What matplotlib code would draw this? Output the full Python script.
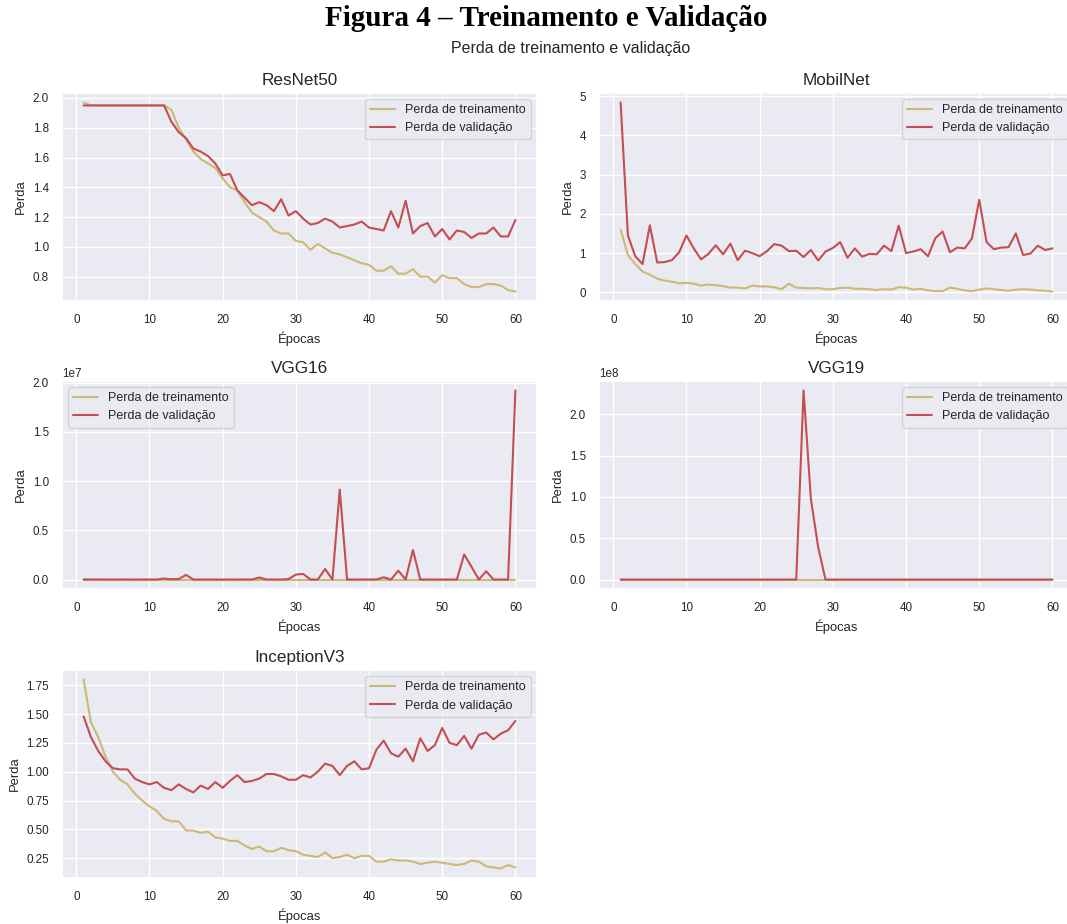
import matplotlib
matplotlib.use("Agg")
import matplotlib.pyplot as plt
import seaborn as sns

# estilo do gráfico
sns.set_theme(style="darkgrid", color_codes=True)
plt.rcParams['font.family'] = ['Liberation Sans', 'DejaVu Sans']

epocas = list(range(1, 61))

# ResNet50
resnet_treino = [1.97, 1.95, 1.95, 1.95, 1.95, 1.95, 1.95, 1.95, 1.95, 1.95,
                 1.95, 1.95, 1.92, 1.80, 1.72, 1.64, 1.59, 1.56, 1.53, 1.46,
                 1.40, 1.38, 1.30, 1.23, 1.20, 1.17, 1.11, 1.09, 1.09, 1.04,
                 1.03, 0.98, 1.02, 0.99, 0.96, 0.95, 0.93, 0.91, 0.89, 0.88,
                 0.84, 0.84, 0.87, 0.82, 0.82, 0.85, 0.80, 0.80, 0.76, 0.81,
                 0.79, 0.79, 0.75, 0.73, 0.73, 0.75, 0.75, 0.74, 0.71, 0.70]
resnet_val = [1.95, 1.95, 1.95, 1.95, 1.95, 1.95, 1.95, 1.95, 1.95, 1.95,
              1.95, 1.95, 1.84, 1.77, 1.73, 1.66, 1.64, 1.61, 1.56, 1.48,
              1.49, 1.38, 1.33, 1.28, 1.30, 1.28, 1.24, 1.32, 1.21, 1.24,
              1.19, 1.15, 1.16, 1.19, 1.17, 1.13, 1.14, 1.15, 1.17, 1.13,
              1.12, 1.11, 1.24, 1.13, 1.31, 1.09, 1.14, 1.16, 1.07, 1.12,
              1.05, 1.11, 1.10, 1.06, 1.09, 1.09, 1.13, 1.07, 1.07, 1.18]

# MobilNet
mobil_treino = [1.60, 0.95, 0.72, 0.53, 0.45, 0.35, 0.30, 0.27, 0.23, 0.24,
                0.22, 0.17, 0.20, 0.18, 0.16, 0.12, 0.12, 0.10, 0.17, 0.15,
                0.15, 0.13, 0.08, 0.22, 0.12, 0.11, 0.10, 0.11, 0.08, 0.08,
                0.11, 0.12, 0.09, 0.09, 0.08, 0.06, 0.08, 0.07, 0.13, 0.12,
                0.07, 0.09, 0.05, 0.03, 0.03, 0.12, 0.09, 0.05, 0.03, 0.07,
                0.10, 0.08, 0.06, 0.04, 0.07, 0.08, 0.07, 0.05, 0.04, 0.02]
mobil_val = [4.84, 1.45, 0.92, 0.72, 1.71, 0.76, 0.77, 0.82, 1.02, 1.45,
             1.12, 0.84, 0.98, 1.20, 0.97, 1.24, 0.82, 1.06, 1.00, 0.92,
             1.05, 1.23, 1.19, 1.05, 1.06, 0.90, 1.08, 0.81, 1.04, 1.13,
             1.28, 0.88, 1.12, 0.91, 0.98, 0.97, 1.19, 1.05, 1.70, 1.00,
             1.04, 1.10, 0.92, 1.38, 1.55, 1.02, 1.14, 1.12, 1.37, 2.36,
             1.28, 1.10, 1.14, 1.15, 1.50, 0.95, 0.99, 1.19, 1.08, 1.12]

# VGG16 (valores da validação explodem)
vgg16_treino = [2.1, 2.1, 2.1, 2.1, 2.1, 2.1, 2.1, 2.1, 2.1, 2.1,
                2.1, 2.1, 2.1, 2.1, 2.1, 2.1, 2.1, 2.1, 2.1, 2.1,
                2.1, 2.1, 2.1, 2.1, 2.1, 2.1, 2.1, 2.1, 2.1, 2.1,
                2.1, 2.1, 2.1, 2.1, 2.1, 2.1, 2.1, 2.1, 2.1, 2.1,
                2.1, 2.1, 2.1, 2.1, 2.1, 2.1, 2.1, 2.1, 2.1, 2.1,
                2.1, 2.1, 2.1, 2.1, 2.1, 2.1, 2.1, 2.1, 2.1, 2.1]
vgg16_val = [5e3, 8e3, 4e3, 3e3, 2e3, 4e3, 3e3, 2e3, 3e3, 4e3,
             5e3, 1.0e5, 3e4, 5e4, 4.7e5, 2e3, 3e3, 2e3, 3e3, 2e3,
             3e3, 2e3, 3e3, 4e3, 2.0e5, 5e3, 3e3, 2e3, 5e4, 5.0e5,
             5.7e5, 3e3, 2e3, 1.07e6, 4e3, 9.13e6, 3e3, 2e3, 3e3, 4e3,
             5e3, 2.3e5, 4e3, 9.0e5, 3e3, 3.0e6, 2e3, 3e3, 2e3, 3e3,
             2e3, 3e3, 2.54e6, 1.3e6, 4e3, 8.4e5, 3e3, 2e3, 3e3, 1.92e7]

# VGG19
vgg19_treino = [2.3, 2.3, 2.3, 2.3, 2.3, 2.3, 2.3, 2.3, 2.3, 2.3,
                2.3, 2.3, 2.3, 2.3, 2.3, 2.3, 2.3, 2.3, 2.3, 2.3,
                2.3, 2.3, 2.3, 2.3, 2.3, 2.3, 2.3, 2.3, 2.3, 2.3,
                2.3, 2.3, 2.3, 2.3, 2.3, 2.3, 2.3, 2.3, 2.3, 2.3,
                2.3, 2.3, 2.3, 2.3, 2.3, 2.3, 2.3, 2.3, 2.3, 2.3,
                2.3, 2.3, 2.3, 2.3, 2.3, 2.3, 2.3, 2.3, 2.3, 2.3]
vgg19_val = [2.3, 2.3, 2.3, 2.3, 2.3, 2.3, 2.3, 2.3, 2.3, 2.3,
             2.3, 2.3, 2.3, 2.3, 2.3, 2.3, 2.3, 2.3, 2.3, 2.3,
             2.3, 2.3, 2.3, 2.3, 2.3, 2.29e8, 9.76e7, 3.9e7, 2.3, 2.3,
             2.3, 2.3, 2.3, 2.3, 2.3, 2.3, 2.3, 2.3, 2.3, 2.3,
             2.3, 2.3, 2.3, 2.3, 2.3, 2.3, 2.3, 2.3, 2.3, 2.3,
             2.3, 2.3, 2.3, 2.3, 2.3, 2.3, 2.3, 2.3, 2.3, 2.3]

# InceptionV3
incep_treino = [1.80, 1.43, 1.30, 1.13, 1.00, 0.93, 0.89, 0.81, 0.75, 0.70,
                0.66, 0.59, 0.57, 0.57, 0.49, 0.49, 0.47, 0.48, 0.43, 0.42,
                0.40, 0.40, 0.36, 0.33, 0.35, 0.31, 0.31, 0.34, 0.32, 0.31,
                0.28, 0.27, 0.26, 0.30, 0.25, 0.26, 0.28, 0.25, 0.27, 0.27,
                0.22, 0.22, 0.24, 0.23, 0.23, 0.22, 0.20, 0.21, 0.22, 0.21,
                0.20, 0.19, 0.20, 0.23, 0.22, 0.18, 0.17, 0.16, 0.19, 0.17]
incep_val = [1.48, 1.30, 1.18, 1.09, 1.03, 1.02, 1.02, 0.94, 0.91, 0.89,
             0.91, 0.86, 0.84, 0.89, 0.85, 0.82, 0.88, 0.85, 0.91, 0.86,
             0.92, 0.97, 0.91, 0.92, 0.94, 0.98, 0.98, 0.96, 0.93, 0.93,
             0.97, 0.95, 1.00, 1.07, 1.05, 0.97, 1.05, 1.09, 1.02, 1.03,
             1.19, 1.27, 1.16, 1.13, 1.20, 1.09, 1.29, 1.18, 1.23, 1.38,
             1.25, 1.23, 1.31, 1.20, 1.32, 1.34, 1.28, 1.33, 1.36, 1.44]

modelos = [
    ("ResNet50", resnet_treino, resnet_val, "upper right"),
    ("MobilNet", mobil_treino, mobil_val, "upper right"),
    ("VGG16", vgg16_treino, vgg16_val, "upper left"),
    ("VGG19", vgg19_treino, vgg19_val, "upper right"),
    ("InceptionV3", incep_treino, incep_val, "upper right"),
]

W, H = 1067, 924
fig = plt.figure(figsize=(W / 100, H / 100), dpi=100)

# posições dos eixos em pixels (esquerda, topo)
col_x = [62, 599]
row_top = [93, 381, 670]
ax_w, ax_h = 475, 208

for i, (nome, treino, val, loc) in enumerate(modelos):
    r, c = divmod(i, 2)
    x0 = col_x[c] / W
    y0 = 1 - (row_top[r] + ax_h) / H
    ax = fig.add_axes([x0, y0, ax_w / W, ax_h / H])
    ax.plot(epocas, treino, 'y', lw=1.5, label='Perda de treinamento')
    ax.plot(epocas, val, 'r', lw=1.5, label='Perda de validação')
    ax.set_title(nome, fontsize=12.3, color='.15')
    ax.set_xlabel('Épocas', fontsize=9.4)
    ax.set_ylabel('Perda', fontsize=9.4)
    ax.tick_params(labelsize=8.4)
    ax.yaxis.get_offset_text().set_fontsize(8.4)
    ax.legend(loc=loc, fontsize=9.0, frameon=True, facecolor='#EAEAF2',
              edgecolor='0.8', framealpha=0.8)

fig.text(546 / W, 1 - 18 / H, 'Figura 4 – Treinamento e Validação',
         family='Liberation Serif', weight='bold', fontsize=21,
         ha='center', va='center', color='black')
fig.text(0.535, 1 - 49 / H, 'Perda de treinamento e validação',
         fontsize=11.5, ha='center', va='center', color='.15')

fig.savefig('out.png', dpi=100)
